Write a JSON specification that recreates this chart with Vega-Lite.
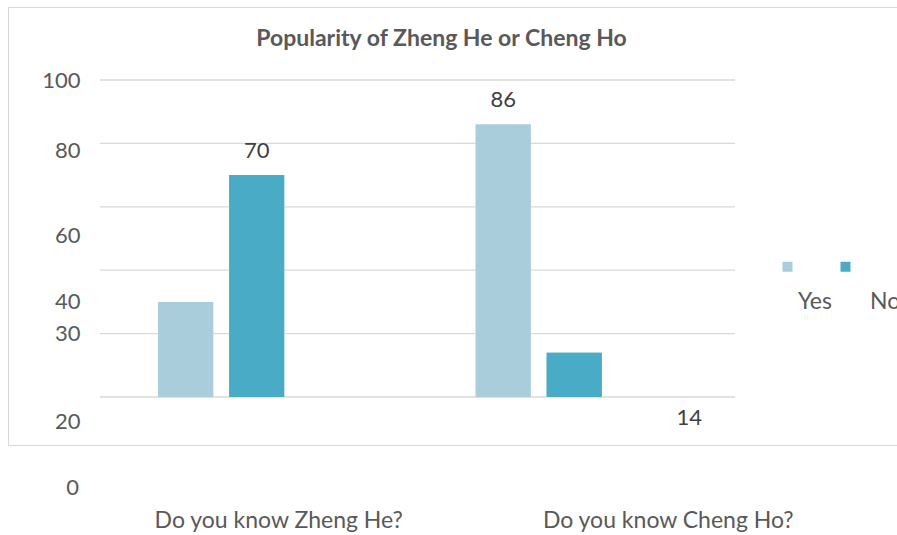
{
  "$schema": "https://vega.github.io/schema/vega-lite/v6.json",
  "autosize": {"type": "none"},
  "padding": {"left": 8, "top": 7, "right": 0, "bottom": 90},
  "width": 895,
  "height": 438,
  "background": "white",
  "config": {"view": {"stroke": "#d9d9d9", "strokeWidth": 1}},
  "title": {
    "text": "Popularity of Zheng He or Cheng Ho",
    "font": "Lato",
    "fontSize": 23,
    "fontWeight": "bold",
    "color": "#595959",
    "anchor": "middle",
    "frame": "group",
    "offset": -55,
    "baseline": "middle",
    "dx": -14
  },
  "datasets": {
    "survey": [
      {"question": "Do you know Zheng He?", "answer": "Yes", "percent": 30},
      {"question": "Do you know Zheng He?", "answer": "No", "percent": 70},
      {"question": "Do you know Cheng Ho?", "answer": "Yes", "percent": 86},
      {"question": "Do you know Cheng Ho?", "answer": "No", "percent": 14}
    ],
    "gridlines": [{"v": 0}, {"v": 20}, {"v": 40}, {"v": 60}, {"v": 80}, {"v": 100}],
    "lowlabel": [{"label": "0", "at": -28.7}]
  },
  "layer": [
    {
      "data": {"name": "survey"},
      "mark": {"type": "bar"},
      "encoding": {
        "x": {
          "field": "question",
          "type": "nominal",
          "sort": ["Do you know Zheng He?", "Do you know Cheng Ho?"],
          "scale": {"domain": ["Do you know Zheng He?", "Do you know Cheng Ho?"], "paddingInner": 0, "paddingOuter": 0.40945, "align": 0.35385},
          "axis": {
            "title": null,
            "orient": "bottom",
            "ticks": false,
            "domain": false,
            "grid": false,
            "labelAngle": 0,
            "labelPadding": 75,
            "labelBaseline": "middle",
            "labelOffset": {"condition": {"test": "datum.value == 'Do you know Zheng He?'", "value": 20}, "value": 92},
            "labelFont": "Lato",
            "labelFontSize": 23,
            "labelColor": "#595959",
            "labelLimit": 400
          }
        },
        "xOffset": {
          "field": "answer",
          "type": "nominal",
          "scale": {"domain": ["Yes", "No", " "], "paddingInner": 0.2254, "paddingOuter": 0.8486, "align": 0.483}
        },
        "y": {
          "field": "percent",
          "type": "quantitative",
          "stack": null,
          "scale": {"domain": [-15.14, 123.03], "nice": false, "zero": false},
          "axis": {
            "title": null,
            "orient": "left",
            "offset": -72,
            "values": [100, 77.9, 51.1, 30, 20, -7.6],
            "labelExpr": "datum.value == 100 ? '100' : datum.value == 77.9 ? '80' : datum.value == 51.1 ? '60' : datum.value == 30 ? '40' : datum.value == 20 ? '30' : '20'",
            "grid": false,
            "ticks": false,
            "tickSize": 0,
            "domain": false,
            "labelPadding": 0,
            "labelFont": "Lato",
            "labelFontSize": 22,
            "labelColor": "#595959",
            "labelOverlap": false,
            "labelBound": false,
            "labelFlush": false
          }
        },
        "color": {
          "field": "answer",
          "type": "nominal",
          "scale": {"domain": ["Yes", "No"], "range": ["#a9cddb", "#4aabc6"]},
          "legend": {
            "title": null,
            "orient": "none",
            "legendX": 768,
            "legendY": 248,
            "direction": "horizontal",
            "columns": 2,
            "symbolType": "square",
            "symbolSize": 100,
            "symbolStrokeWidth": 0,
            "labelOffset": 3,
            "columnPadding": 2,
            "labelFont": "Lato",
            "labelFontSize": 23,
            "labelColor": "#595959",
            "encode": {"labels": {"update": {"dy": {"value": 35}, "dx": {"signal": "datum.label == 'No' ? 10 : -4"}}}}
          }
        }
      }
    },
    {
      "data": {"name": "gridlines"},
      "mark": {"type": "rule", "color": "#d9d9d9", "strokeWidth": 1.3},
      "encoding": {
        "y": {"field": "v", "type": "quantitative"},
        "x": {"datum": "Do you know Zheng He?", "type": "nominal", "bandPosition": 0},
        "x2": {"datum": "Do you know Cheng Ho?", "bandPosition": 1}
      }
    },
    {
      "data": {"name": "survey"},
      "mark": {"type": "bar"},
      "encoding": {
        "x": {"field": "question", "type": "nominal"},
        "xOffset": {"field": "answer", "type": "nominal"},
        "y": {"field": "percent", "type": "quantitative", "stack": null},
        "color": {"field": "answer", "type": "nominal"}
      }
    },
    {
      "data": {"name": "lowlabel"},
      "mark": {"type": "text", "align": "right", "baseline": "middle", "dx": -21, "font": "Lato", "fontSize": 22, "color": "#595959"},
      "encoding": {
        "x": {"datum": "Do you know Zheng He?", "type": "nominal", "bandPosition": 0},
        "y": {"field": "at", "type": "quantitative"},
        "text": {"field": "label", "type": "nominal"}
      }
    },
    {
      "data": {"name": "survey"},
      "transform": [{"filter": "datum.percent > 50"}],
      "mark": {"type": "text", "baseline": "middle", "dy": -24, "font": "Lato", "fontSize": 22, "color": "#404040"},
      "encoding": {
        "x": {"field": "question", "type": "nominal"},
        "xOffset": {"field": "answer", "type": "nominal"},
        "y": {"field": "percent", "type": "quantitative"},
        "text": {"field": "percent", "type": "quantitative"}
      }
    },
    {
      "data": {"name": "survey"},
      "transform": [{"filter": "datum.percent == 14"}],
      "mark": {"type": "text", "baseline": "middle", "dx": 115, "dy": 65, "font": "Lato", "fontSize": 22, "color": "#404040"},
      "encoding": {
        "x": {"field": "question", "type": "nominal"},
        "xOffset": {"field": "answer", "type": "nominal"},
        "y": {"field": "percent", "type": "quantitative"},
        "text": {"field": "percent", "type": "quantitative"}
      }
    }
  ]
}
